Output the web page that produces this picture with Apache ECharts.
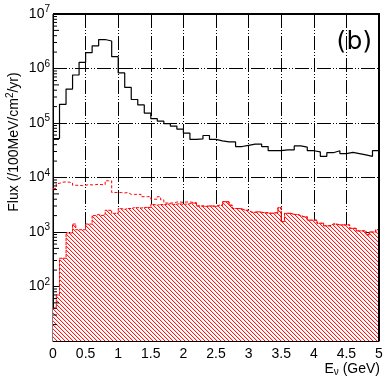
<!DOCTYPE html>
<html>
<head>
<meta charset="utf-8">
<script src="https://cdn.jsdelivr.net/npm/echarts@6/dist/echarts.min.js"></script>
<style>
  html, body { margin: 0; padding: 0; background: #fff; }
  #chart { width: 387px; height: 382px; }
</style>
</head>
<body>
<div id="chart"></div>
<script>
// bin widths of the two histograms (GeV)
const blackBinWidth = 0.1;
const redBinWidth = 0.05;

// black histogram, 0.1 GeV bins from 0 to 5 GeV
const blackFlux = [
  52000, 220000, 420000, 760000, 1300000, 1950000, 2600000, 3400000, 3200000, 1650000,
  830000, 450000, 270000, 215000, 152000, 120000, 108000, 97000, 88000, 77000,
  65000, 50000, 51000, 59000, 50000, 47000, 45000, 45000, 37000, 39000,
  41000, 41000, 37000, 31000, 31000, 32000, 32000, 38000, 36000, 31000,
  29500, 24500, 28500, 31000, 27500, 29000, 27500, 26000, 24500, 31000
];

// red hatched histogram, 0.05 GeV bins from 0 to 5 GeV
const redHatched = [
  40, 70, 330, 330, 960, 960, 1400, 1100, 1100, 1100,
  1400, 1400, 2000, 2100, 2000, 2100, 2500, 2500, 2200, 2200,
  2700, 2600, 2700, 2700, 2800, 2800, 2750, 2800, 2850, 2800,
  3200, 3100, 3200, 3150, 3250, 3300, 3200, 3250, 3300, 3200,
  3250, 3300, 3400, 3400, 3000, 3000, 2950, 3000, 3000, 2950,
  3100, 3100, 3600, 3600, 3100, 2700, 2700, 2650, 2500, 2500,
  2300, 2300, 2350, 2300, 2250, 2250, 2200, 2250, 2250, 2800,
  1550, 2200, 2200, 2100, 2100, 2000, 1900, 1900, 1650, 1650,
  1650, 1450, 1450, 1300, 1300, 1400, 1400, 1350, 1350, 1350,
  1350, 1170, 1170, 1050, 1050, 1050, 890, 1000, 1000, 1100
];

// red dashed histogram below 2.2 GeV (above that it runs along the hatched edge)
const redDashedLow = [
  6300, 7800, 8200, 8300, 8200, 8000, 7200, 7200, 7100, 7200,
  7400, 7300, 7400, 7500, 7400, 7400, 8700, 8700, 5300, 5300,
  5300, 5200, 5300, 4900, 4900, 4900, 4900, 4450, 4450, 4450,
  4000, 4000, 4450, 3900, 3400, 3400, 3400, 3550, 3550, 3500,
  3550, 3550, 3500, 3450
];
const redDashed = redDashedLow.concat(redHatched.slice(redDashedLow.length));

// minor tick values of the log axis
const minorTicks = [];
[10, 100, 1000, 10000, 100000, 1000000].forEach(d => {
  for (let k = 2; k <= 9; k++) minorTicks.push(d * k);
});

// histogram -> step points [edge, value], closing the last bin
function toSteps(vals, w) {
  const pts = vals.map((v, i) => [+(i * w).toFixed(3), v]);
  pts.push([+(vals.length * w).toFixed(3), vals[vals.length - 1]]);
  return pts;
}

// red hatch pattern
const hatch = document.createElement('canvas');
hatch.width = 4;
hatch.height = 4;
const hctx = hatch.getContext('2d');
hctx.fillStyle = '#ffffff';
hctx.fillRect(0, 0, 4, 4);
for (let i = 0; i < 4; i++) {
  hctx.fillStyle = '#ff1a1a';
  hctx.fillRect(i, i, 1, 1);
  hctx.fillStyle = '#ffdcdc';
  hctx.fillRect((i + 1) % 4, i, 1, 1);
}

const font = 'Liberation Sans, Arial, Helvetica, sans-serif';
const gridDash = [14, 2, 1, 2, 1, 2];

const chart = echarts.init(document.getElementById('chart'), null, { renderer: 'canvas' });

const option = {
  animation: false,
  backgroundColor: '#fff',
  grid: { left: 53, right: 8, top: 14, bottom: 41, show: true, borderColor: '#000', borderWidth: 1 },
  xAxis: {
    type: 'value',
    min: 0,
    max: 5,
    interval: 0.5,
    axisLine: { show: true, onZero: false, lineStyle: { color: '#000' } },
    axisTick: { show: true, inside: true, length: 6, lineStyle: { color: '#000' } },
    axisLabel: { color: '#000', fontFamily: font, fontSize: 14, margin: 6 },
    splitLine: { show: true, lineStyle: { color: '#000', type: gridDash, width: 1 } }
  },
  yAxis: {
    type: 'log',
    logBase: 10,
    min: 10,
    max: 10000000,
    axisLine: { show: true, lineStyle: { color: '#000' } },
    axisTick: { show: true, inside: true, length: 8, lineStyle: { color: '#000' } },
    axisLabel: {
      margin: 3,
      formatter: v => {
        const e = Math.round(Math.log10(v));
        return e < 2 ? '' : '{b|10}{e|' + e + '}';
      },
      rich: {
        b: { fontFamily: font, fontSize: 14, color: '#000' },
        e: { fontFamily: font, fontSize: 10, color: '#000', padding: [0, 0, 9, 0] }
      }
    },
    splitLine: { show: true, lineStyle: { color: '#000', type: gridDash, width: 1 } }
  },
  graphic: [
    {
      type: 'text',
      x: 14,
      y: 142,
      rotation: Math.PI / 2,
      style: {
        text: 'Flux (/100MeV/cm{s|2}/yr)',
        align: 'center',
        verticalAlign: 'middle',
        fontFamily: font,
        fontSize: 14,
        fill: '#000',
        rich: {
          s: { fontFamily: font, fontSize: 10, fill: '#000', padding: [0, 0, 8, 0] }
        }
      }
    },
    {
      type: 'text',
      right: 7,
      top: 362,
      style: {
        text: 'E{n|ν} (GeV)',
        fontFamily: font,
        fontSize: 14,
        fill: '#000',
        rich: {
          n: { fontFamily: font, fontSize: 10, fill: '#000', padding: [6, 0, 0, 0] }
        }
      }
    },
    {
      type: 'text',
      right: 15,
      top: 30,
      style: { text: '(b)', fontFamily: 'DejaVu Sans, sans-serif', fontSize: 25, fill: '#000' }
    },
    {
      // heavier top and right frame
      type: 'polyline',
      shape: { points: [[53, 14], [379, 14], [379, 341]] },
      style: { stroke: '#000', lineWidth: 2, fill: null },
      z: 100
    }
  ],
  series: [
    {
      name: 'hatched',
      type: 'line',
      step: 'end',
      symbol: 'none',
      data: toSteps(redHatched, redBinWidth),
      lineStyle: { color: '#ff0000', width: 1, type: [3, 1] },
      areaStyle: { origin: 'start', color: { image: hatch, repeat: 'repeat' }, opacity: 1 },
      z: 1
    },
    {
      name: 'dashed',
      type: 'line',
      step: 'end',
      symbol: 'none',
      data: toSteps(redDashed, redBinWidth),
      lineStyle: { color: '#ff0000', width: 1, type: [3, 2] },
      z: 3
    },
    {
      name: 'black',
      type: 'line',
      step: 'end',
      symbol: 'none',
      data: toSteps(blackFlux, blackBinWidth),
      lineStyle: { color: '#000', width: 1.2 },
      z: 4
    },
    {
      name: 'minorTicks',
      type: 'custom',
      silent: true,
      data: minorTicks.map(v => [0, v]),
      renderItem: (params, api) => {
        const p = api.coord([0, api.value(1)]);
        const v = api.value(1);
        const m = v / Math.pow(10, Math.floor(Math.log10(v) + 1e-9));
        const len = Math.round(m) === 5 ? 6 : 4;
        return {
          type: 'line',
          shape: { x1: p[0], y1: p[1], x2: p[0] + len, y2: p[1] },
          style: { stroke: '#000', lineWidth: 1 }
        };
      },
      z: 5
    }
  ]
};

chart.setOption(option);
</script>
</body>
</html>
